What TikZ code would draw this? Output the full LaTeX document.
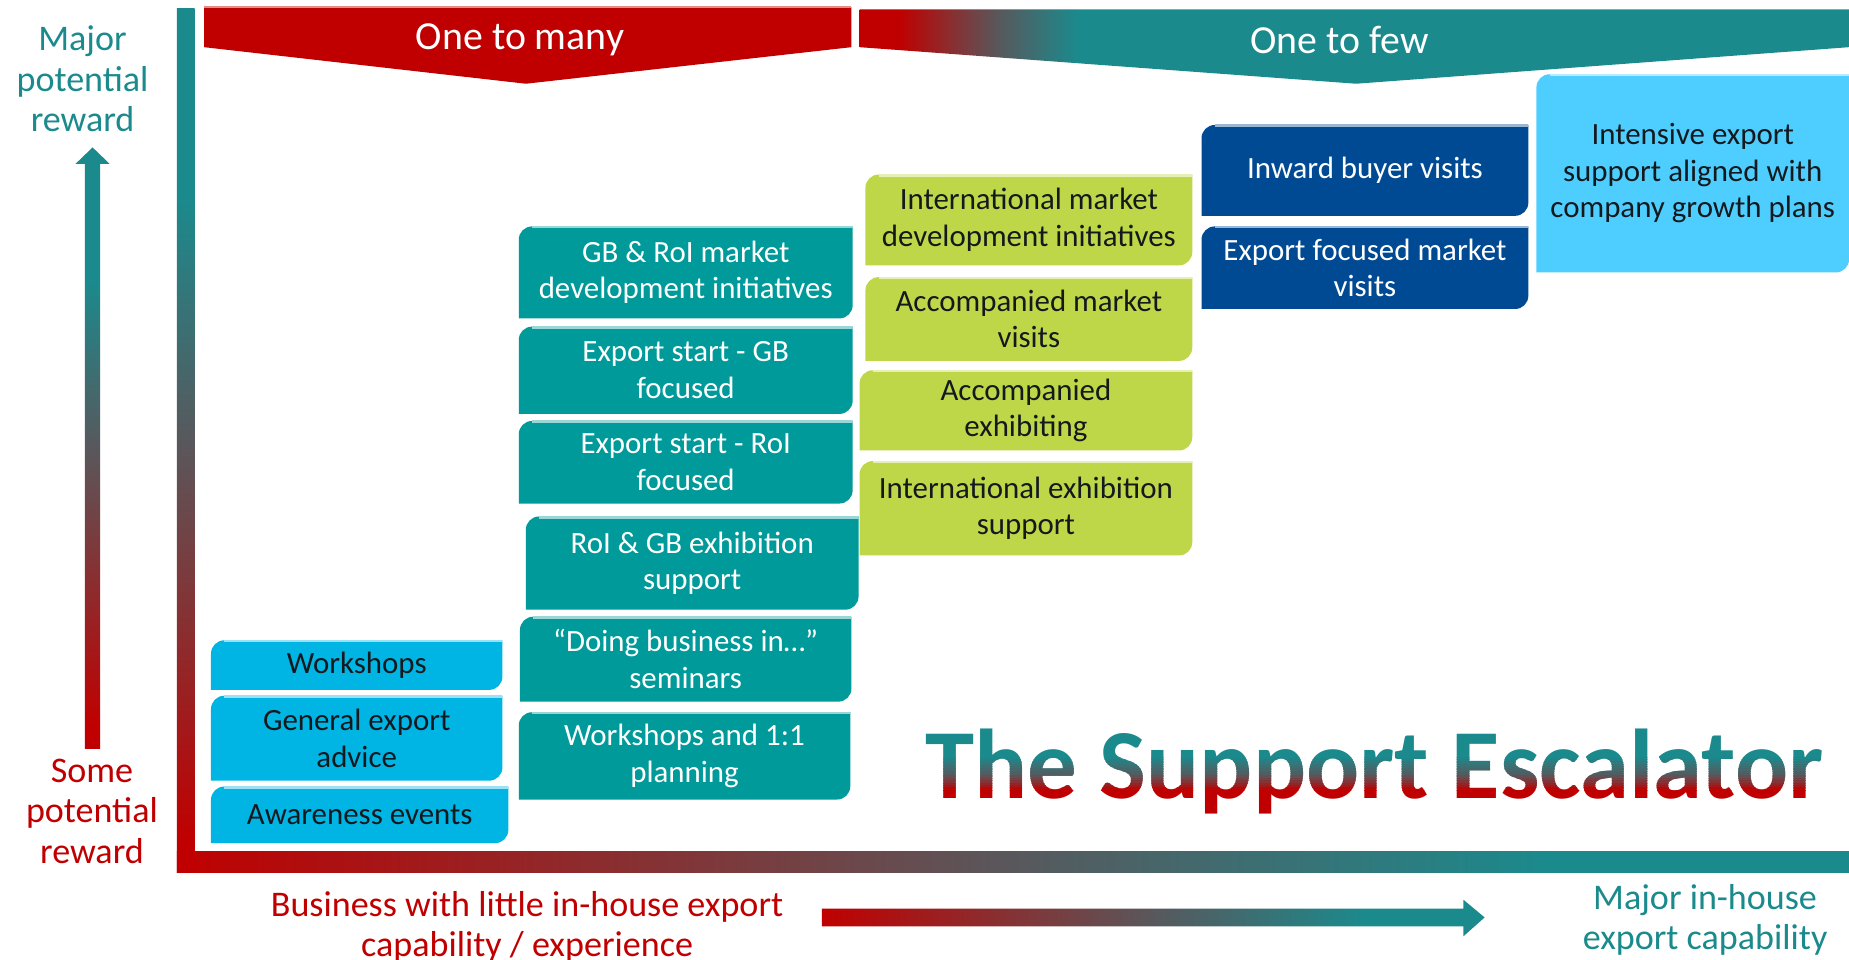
\documentclass[tikz,border=0pt]{standalone}
\usepackage{fontspec}
\setmainfont{Carlito}

\definecolor{escred}{RGB}{192,0,0}
\definecolor{escteal}{RGB}{27,138,141}
\definecolor{escgrey}{RGB}{88,88,92}
\definecolor{boxcyan}{RGB}{0,180,228}
\definecolor{boxteal}{RGB}{0,154,154}
\definecolor{boxgreen}{RGB}{190,215,72}
\definecolor{boxnavy}{RGB}{0,74,148}
\definecolor{boxsky}{RGB}{78,206,255}
\definecolor{boxink}{RGB}{20,25,30}

\def\boxfont{\fontsize{7.45}{8.8}\selectfont}
\def\axisfont{\fontsize{8.7}{9.8}\selectfont}
\def\headfont{\fontsize{9.6}{11}\selectfont}
\def\titlefont{\fontsize{23.9}{26}\selectfont\bfseries}

\pgfdeclareverticalshading{riseshade}{100bp}{color(0bp)=(escred); color(27bp)=(escred); color(50bp)=(escgrey); color(64bp)=(escteal); color(100bp)=(escteal)}
\pgfdeclarehorizontalshading{runshade}{100bp}{color(0bp)=(escred); color(25bp)=(escred); color(50bp)=(escgrey); color(66bp)=(escteal); color(100bp)=(escteal)}
\pgfdeclarehorizontalshading{fewshade}{100bp}{color(0bp)=(escred); color(27bp)=(escred); color(32bp)=(escgrey); color(36bp)=(escteal); color(100bp)=(escteal)}

\tikzset{
  escbox/.style={inner sep=0pt, align=center, font=\boxfont,
    path picture={
      \fill[#1] ([yshift=-3.2pt]path picture bounding box.north west)
        arc[start angle=180, end angle=90, radius=3.2pt]
        -- (path picture bounding box.north east)
        -- ([yshift=3.2pt]path picture bounding box.south east)
        arc[start angle=0, end angle=-90, radius=3.2pt]
        -- (path picture bounding box.south west) -- cycle;
      \draw[#1!40!white, line width=1pt] ([xshift=3.2pt]path picture bounding box.north west) -- (path picture bounding box.north east);}},
  cyanbox/.style={escbox=boxcyan, text=boxink},
  tealbox/.style={escbox=boxteal, text=white},
  greenbox/.style={escbox=boxgreen, text=boxink},
  navybox/.style={escbox=boxnavy, text=white},
  skybox/.style={escbox=boxsky, text=boxink},
  headtext/.style={font=\headfont, text=white},
  axistext/.style={font=\axisfont, align=center},
  titletext/.style={font=\titlefont, inner sep=0pt, anchor=base},
}

\begin{document}
\begin{tikzpicture}[x=0.01cm, y=0.01cm]
	\useasboundingbox (0,0) rectangle (1568,-814);
	
	% axes
	\shade[shading=runshade] (150,-722) rectangle (1568,-740);
	\shade[shading=riseshade] (150,-7) rectangle (165,-740);
	
	% banners
	\fill[escred] (173,-6) -- (722,-6) -- (722,-40) -- (446,-71) -- (173,-40) -- cycle;
	\draw[escred!45!white, line width=0.5pt] (173,-6) -- (722,-6);
	\shade[shading=fewshade] (729,-8) -- (1568,-8) -- (1568,-40) -- (1150,-71) -- (729,-40) -- cycle;
	\node[headtext] (many) at (441,-34) {One to many};
	\node[headtext] (few) at (1136,-34) {One to few};
	
	% arrows
	\shade[shading=riseshade] (72,-635) -- (72,-139) -- (64,-139) -- (78.5,-125) -- (93,-139) -- (85,-139) -- (85,-635) -- cycle;
	\shade[shading=runshade] (697,-770.5) -- (1241,-770.5) -- (1241,-763) -- (1259,-778) -- (1241,-794) -- (1241,-785.5) -- (697,-785.5) -- cycle;
	
	% axis labels
	\node[axistext, text=escteal] (rewardhi) at (70,-67) {Major\\potential\\reward};
	\node[axistext, text=escred] (rewardlo) at (78,-688) {Some\\potential\\reward};
	\node[axistext, text=escred] (caplo) at (447,-786) {Business with little in-house export\\capability / experience};
	\node[axistext, text=escteal] (caphi) at (1446,-780) {Major in-house\\export capability};
	
	% one to many
	\node[cyanbox, minimum width=2.47cm, minimum height=0.42cm] (wshop) at (302.5,-564) {Workshops};
	\node[cyanbox, minimum width=2.47cm, minimum height=0.72cm] (advice) at (302.5,-626) {General export\\advice};
	\node[cyanbox, minimum width=2.52cm, minimum height=0.48cm] (aware) at (305,-691) {Awareness events};
	
	\node[tealbox, minimum width=2.83cm, minimum height=0.78cm] (gbroi) at (581.5,-231) {GB \& RoI market\\development initiatives};
	\node[tealbox, minimum width=2.83cm, minimum height=0.74cm] (startgb) at (581.5,-314) {Export start - GB\\focused};
	\node[tealbox, minimum width=2.83cm, minimum height=0.70cm] (startroi) at (581.5,-392) {Export start - RoI\\focused};
	\node[tealbox, minimum width=2.82cm, minimum height=0.79cm] (exhib) at (587,-477.5) {RoI \& GB exhibition\\support};
	\node[tealbox, minimum width=2.81cm, minimum height=0.72cm] (doing) at (581.5,-559) {“Doing business in…”\\seminars};
	\node[tealbox, minimum width=2.81cm, minimum height=0.74cm] (plan) at (580.5,-641) {Workshops and 1:1\\planning};
	
	% one to few
	\node[greenbox, minimum width=2.77cm, minimum height=0.77cm] (intdev) at (872.5,-186.5) {International market\\development initiatives};
	\node[greenbox, minimum width=2.77cm, minimum height=0.71cm] (accvisit) at (872.5,-270.5) {Accompanied market\\visits};
	\node[greenbox, minimum width=2.82cm, minimum height=0.68cm] (accexh) at (870,-348) {Accompanied\\exhibiting};
	\node[greenbox, minimum width=2.82cm, minimum height=0.80cm] (intexh) at (870,-431) {International exhibition\\support};
	
	\node[navybox, minimum width=2.77cm, minimum height=0.77cm] (inward) at (1157.5,-144.5) {Inward buyer visits};
	\node[navybox, minimum width=2.77cm, minimum height=0.70cm] (focused) at (1157.5,-227) {Export focused market\\visits};
	
	\node[skybox, minimum width=2.65cm, minimum height=1.68cm] (intense) at (1435.5,-147) {Intensive export\\support aligned with\\company growth plans};
	
	% title, teal on top running into red
	\begin{scope}
		\clip (700,-590) rectangle (1600,-642.2);
		\node[titletext, text=escteal] (title) at (1165.5,-677) {The Support Escalator};
	\end{scope}
	\foreach \k in {0,...,13}{
		\ifnum\k<8
			\pgfmathtruncatemacro\p{(\k+0.5)*12.5}
			\def\c{escgrey!\p!escteal}
		\else
			\pgfmathtruncatemacro\p{(\k-7.5)*16.6}
			\def\c{escred!\p!escgrey}
		\fi
		\begin{scope}
			\clip (700,{-642-2*\k}) rectangle (1600,{-644.2-2*\k});
			\node[titletext, text=\c] (title\k) at (1165.5,-677) {The Support Escalator};
		\end{scope}
	}
	\begin{scope}
		\clip (700,-670) rectangle (1600,-720);
		\node[titletext, text=escred] (titlelo) at (1165.5,-677) {The Support Escalator};
	\end{scope}
\end{tikzpicture}
\end{document}
